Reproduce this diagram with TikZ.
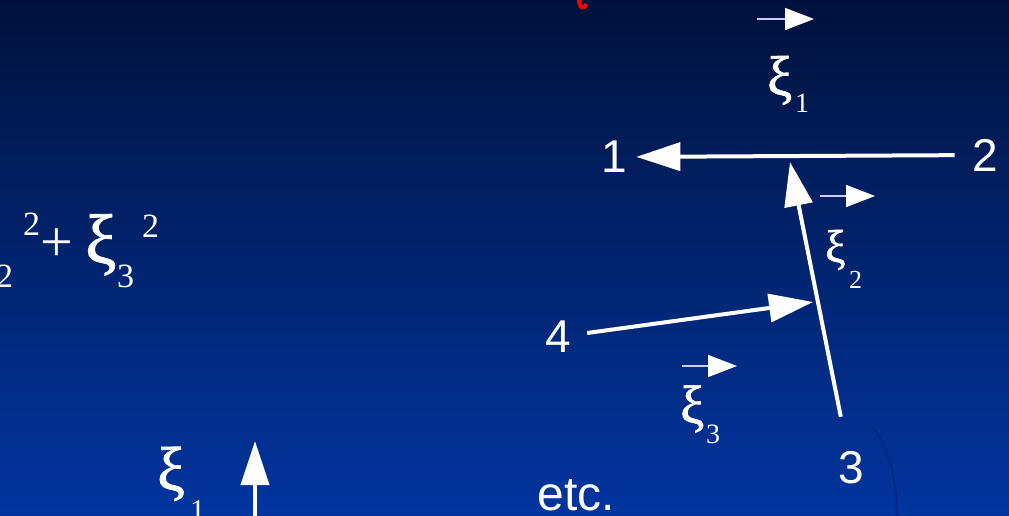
\documentclass[tikz,border=0pt]{standalone}
\usepackage{fontspec}
\setmainfont{Liberation Serif}
\setsansfont{Liberation Sans}
\newfontfamily\xifont[FakeBold=1.2]{Liberation Serif}
\usetikzlibrary{arrows.meta}
\newcommand{\fsz}[1]{\fontsize{#1}{#1}\selectfont}
\definecolor{slidetop}{RGB}{0,18,60}
\definecolor{slidebot}{RGB}{2,53,160}
\definecolor{arcblue}{RGB}{0,40,135}

\begin{document}
\begin{tikzpicture}[x=1pt,y=-1pt,
  num/.style={font=\sffamily\fsz{46},text=white},
  xi/.style={font=\xifont\fsz{#1},text=white,anchor=base west,inner sep=0pt},
  sub/.style={font=\fsz{#1},text=white,anchor=base west,inner sep=0pt},
  bigarrow/.style={white,line width=4pt,-{Triangle[length=44pt,width=28pt]}},
  vecarrow/.style={white!80!blue,line width=1.5pt,-{Triangle[length=29pt,width=22pt,color=white]}}]
\shade[top color=slidetop,bottom color=slidebot] (0,0) rectangle (1009,516);
\useasboundingbox (0,0) rectangle (1009,516);
\clip (0,0) rectangle (1009,516);

% red fragment at the top edge
\draw[red,line width=4pt] (579,-2) .. controls (579,9) and (584,10) .. (586,4);

% faint arc round the 3
\draw[arcblue,line width=2pt] (873,428) .. controls (890,450) and (897,480) .. (897,520);

% points
\node[num] (n1) at (614,157) {1};
\node[num] (n2) at (985,155) {2};
\node[num] (n3) at (851,468) {3};
\node[num] (n4) at (558,337) {4};
\node[font=\sffamily\fsz{48},text=white,anchor=base,inner sep=0pt] (etc) at (576,510) {etc.};

\coordinate (m12) at (790,162);
\coordinate (m23) at (813,302);
\coordinate (up0) at (255,520);
\coordinate (up1) at (255,441);
\draw[bigarrow,shorten <=14pt,shorten >=6pt] (n2) -- (n1);
\draw[bigarrow,shorten <=32pt] (n3) -- (m12);
\draw[bigarrow,shorten <=13pt] (n4) -- (m23);
\draw[bigarrow] (up0) -- (up1);

% vector marks
\foreach \i/\a/\b/\y in {1/757/814/19,2/820/875/196,3/682/737/366}{
  \coordinate (vs\i) at (\a,\y);
  \coordinate (ve\i) at (\b,\y);
  \draw[vecarrow] (vs\i) -- (ve\i);
}

% xi labels
\node[xi=56] (xa) at (767,95) {ξ};
\node[sub=28] (xas) at (795,113) {1};
\node[xi=46] (xb) at (825,262) {ξ};
\node[sub=26] (xbs) at (849,288) {2};
\node[xi=54] (xc) at (680,423) {ξ};
\node[sub=28] (xcs) at (706,443) {3};
\node[xi=62] (xd) at (157,490) {ξ};
\node[sub=30] (xds) at (190,520) {1};

% sum of squares, cut at the left edge
\node[sub=34] (la) at (-4,287) {2};
\node[sub=34] (lb) at (23,235) {2};
\node[font=\fsz{58},text=white,inner sep=0pt] (lc) at (57,245) {+};
\node[xi=70] (ld) at (85,263) {ξ};
\node[sub=34] (le) at (117,287) {3};
\node[sub=34] (lf) at (142,237) {2};
\end{tikzpicture}
\end{document}
